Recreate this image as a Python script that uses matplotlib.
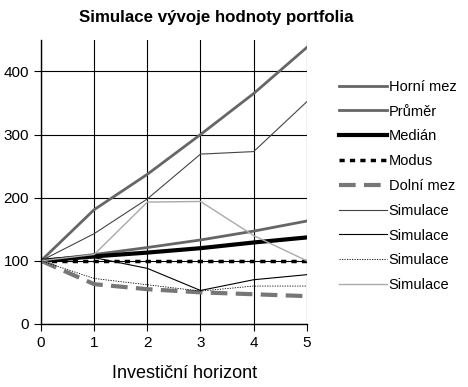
import matplotlib
matplotlib.use("Agg")
import matplotlib.pyplot as plt

plt.rcParams['font.family'] = ['Liberation Sans', 'DejaVu Sans']

years = [0, 1, 2, 3, 4, 5]
horni = [100, 181, 237, 300, 365, 438]
prumer = [100, 110, 121, 133, 147, 163]
median = [100, 107, 113, 120, 129, 137]
modus = [100, 100, 100, 100, 100, 100]
dolni = [100, 63, 55, 50, 47, 44]
sim1 = [100, 143, 198, 269, 273, 352]
sim2 = [100, 105, 88, 53, 70, 78]
sim3 = [100, 72, 62, 52, 60, 60]
sim4 = [100, 110, 193, 194, 140, 100]

fig = plt.figure(figsize=(4.68, 3.87), dpi=100)
ax = fig.add_axes([0.0876, 0.163, 0.568, 0.734])

ax.plot(years, horni, color='#666666', lw=2, label='Horní mez')
ax.plot(years, prumer, color='#666666', lw=2, label='Průměr')
ax.plot(years, median, color='black', lw=3, label='Medián')
ax.plot(years, modus, color='black', lw=2.5, dashes=(1.5, 1.5), label='Modus')
ax.plot(years, dolni, color='#777777', lw=3, dashes=(4, 2), label='Dolní mez')
ax.plot(years, sim1, color='#444444', lw=0.8, label='Simulace')
ax.plot(years, sim2, color='black', lw=0.8, label='Simulace')
ax.plot(years, sim3, color='black', lw=0.6, dashes=(1.5, 1.5), label='Simulace')
ax.plot(years, sim4, color='#aaaaaa', lw=1, label='Simulace')

ax.set_xlim(0, 5)
ax.set_ylim(0, 450)
ax.set_xticks(years)
ax.set_yticks([0, 100, 200, 300, 400])
ax.grid(True, color='black', lw=0.8)
ax.tick_params(direction='out', length=5, labelsize=11, colors='black')
for s in ax.spines.values():
    s.set_linewidth(1)
ax.spines['top'].set_visible(False)
ax.spines['right'].set_visible(False)

fig.text(0.462, 0.955, 'Simulace vývoje hodnoty portfolia', fontsize=12.2,
         fontweight='bold', ha='center', va='center')
ax.set_xlabel('Investiční horizont', fontsize=13)
ax.xaxis.set_label_coords(0.54, -0.145)

ax.legend(loc='upper left', bbox_to_anchor=(1.1, 0.88), frameon=False, fontsize=10.5,
          handlelength=3.3, handletextpad=0.1, labelspacing=0.74, borderaxespad=0)

fig.savefig('out.png', dpi=100)
